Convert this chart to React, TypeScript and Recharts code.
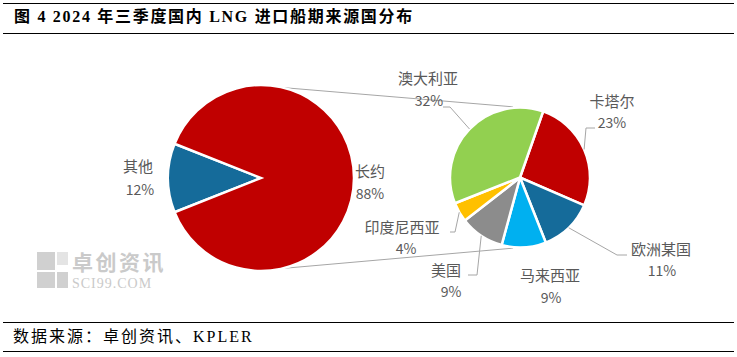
import { PieChart, Pie, Cell, Customized } from 'recharts'

// 左侧主饼图
const mainNames = ['其他', '长约']
const mainValues = [12, 88]

// 右侧子饼图（长约来源国，占总量百分比）
const subNames = ['卡塔尔', '欧洲某国', '马来西亚', '美国', '印度尼西亚', '澳大利亚']
const subValues = [23, 11, 9, 9, 4, 32]

const mainData = mainNames.map((name, i) => ({ name, value: mainValues[i] }))
const subData = subNames.map((name, i) => ({ name, value: subValues[i] }))

const mainColors = ['#156B9A', '#C00000']
const subColors = ['#C00000', '#156B9A', '#00B0F0', '#8C8C8C', '#FFC000', '#92D050']

// geometry
const MAIN = { cx: 261, cy: 178, r: 93, start: 158.4 }
const SUB = { cx: 520, cy: 177.5, r: 70, start: 70.7 }
const RAD = Math.PI / 180

// label placement: [nameX, nameY, pctX, pctY]
const mainLabelPos = [
  [138, 165, 140, 189],
  [370, 170, 370, 193],
]
const subLabelPos = [
  [612, 100, 612, 122],
  [661, 248, 662, 270],
  [550, 274, 551, 297],
  [446, 269, 451, 291],
  [402, 226, 406, 248],
  [428, 77, 429, 100],
]
// leader lines: [labelX, elbowX, y] or null
const subLeaders: (number[] | null)[] = [
  [595, 586, 128],
  [627, 617, 255],
  null,
  [468, 477, 275],
  [450, 455, 232],
  [443, 450, 107],
]

const labelFont = '"Noto Sans CJK SC", "DejaVu Sans", sans-serif'
const labelColor = '#595959'

const makeLabel = (pos: number[][], values: number[], leaders?: (number[] | null)[]) =>
  (props: any) => {
    const { cx, cy, midAngle, outerRadius, index, name } = props
    const p = pos[index]
    const ld = leaders ? leaders[index] : null
    let line = null
    if (ld) {
      const ex = cx + outerRadius * Math.cos(-midAngle * RAD)
      const ey = cy + outerRadius * Math.sin(-midAngle * RAD)
      line = (
        <polyline
          points={`${ld[0]},${ld[2]} ${ld[1]},${ld[2]} ${ex},${ey}`}
          fill="none"
          stroke="#A6A6A6"
          strokeWidth={1}
        />
      )
    }
    return (
      <g key={`lbl-${index}`}>
        {line}
        <text x={p[0]} y={p[1]} textAnchor="middle" dominantBaseline="central"
          fontSize={15} fontFamily={labelFont} fill={labelColor}>{name}</text>
        <text x={p[2]} y={p[3]} textAnchor="middle" dominantBaseline="central"
          fontSize={14} fontFamily={labelFont} fill={labelColor}>{values[index]}%</text>
      </g>
    )
  }

// connector lines between the two pies
const Connectors = () => {
  const a1 = 13.5 * RAD
  const a2 = -5.6 * RAD
  const lTopX = MAIN.cx + MAIN.r * Math.sin(a1)
  const lTopY = MAIN.cy - MAIN.r * Math.cos(a1)
  const lBotY = MAIN.cy + MAIN.r * Math.cos(a1)
  const rX = SUB.cx + (SUB.r + 1) * Math.sin(a2)
  const rTopY = SUB.cy - (SUB.r + 1) * Math.cos(a2)
  const rBotY = SUB.cy + (SUB.r + 1) * Math.cos(a2)
  return (
    <g>
      <line x1={lTopX} y1={lTopY} x2={rX} y2={rTopY} stroke="#A6A6A6" strokeWidth={1} />
      <line x1={lTopX} y1={lBotY} x2={rX} y2={rBotY} stroke="#A6A6A6" strokeWidth={1} />
    </g>
  )
}

const hr = (top: number) => (
  <div style={{ position: 'absolute', left: 3, width: 731, top, height: 0, borderTop: '1.5px solid #000' }} />
)

export default function App() {
  return (
    <div style={{ position: 'absolute', left: 0, top: 0, width: 737, height: 357, background: '#fff', overflow: 'hidden' }}>
      {hr(3)}
      <div style={{
        position: 'absolute', left: 14, top: 7, fontSize: 16, lineHeight: '20px', fontWeight: 'bold',
        fontFamily: '"Liberation Serif", "Noto Sans CJK SC", serif', color: '#000', letterSpacing: 1.7,
        whiteSpace: 'nowrap',
      }}>
        图 4 2024 年三季度国内 LNG 进口船期来源国分布
      </div>
      {hr(33)}

      {/* watermark */}
      <div style={{ position: 'absolute', left: 37, top: 252, width: 18, height: 18, background: '#D0D0D0' }} />
      <div style={{ position: 'absolute', left: 57, top: 252, width: 11, height: 13, background: '#E4E4E4' }} />
      <div style={{ position: 'absolute', left: 37, top: 272, width: 18, height: 16, background: '#D0D0D0' }} />
      <div style={{ position: 'absolute', left: 57, top: 272, width: 11, height: 16, background: '#D0D0D0' }} />
      <div style={{
        position: 'absolute', left: 72, top: 251, fontSize: 21, lineHeight: '21px', color: '#CACACA',
        fontFamily: '"Noto Sans CJK SC", sans-serif', fontWeight: 'bold', letterSpacing: 2.5, whiteSpace: 'nowrap',
      }}>卓创资讯</div>
      <div style={{
        position: 'absolute', left: 72, top: 278, fontSize: 14, lineHeight: '12px', color: '#CACACA',
        fontFamily: '"Liberation Serif", serif', letterSpacing: 1, whiteSpace: 'nowrap',
      }}>SCI99.COM</div>

      <div style={{ position: 'absolute', left: 0, top: 0 }}>
        <PieChart width={737} height={357} margin={{ top: 0, right: 0, bottom: 0, left: 0 }}>
          <Customized component={Connectors} />
          <Pie
            data={mainData}
            dataKey="value"
            nameKey="name"
            cx={MAIN.cx}
            cy={MAIN.cy}
            outerRadius={MAIN.r}
            startAngle={MAIN.start}
            endAngle={MAIN.start + 360}
            stroke="#fff"
            strokeWidth={2.5}
            isAnimationActive={false}
            labelLine={false}
            label={makeLabel(mainLabelPos, mainValues)}
          >
            {mainData.map((d, i) => <Cell key={d.name} fill={mainColors[i]} />)}
          </Pie>
          <Pie
            data={subData}
            dataKey="value"
            nameKey="name"
            cx={SUB.cx}
            cy={SUB.cy}
            outerRadius={SUB.r}
            startAngle={SUB.start}
            endAngle={SUB.start - 360}
            stroke="#fff"
            strokeWidth={2.5}
            isAnimationActive={false}
            labelLine={false}
            label={makeLabel(subLabelPos, subValues, subLeaders)}
          >
            {subData.map((d, i) => <Cell key={d.name} fill={subColors[i]} />)}
          </Pie>
        </PieChart>
      </div>

      {hr(322)}
      <div style={{
        position: 'absolute', left: 13, top: 327, fontSize: 16, lineHeight: '20px', color: '#000',
        fontFamily: '"Liberation Serif", "Noto Sans CJK SC", serif', letterSpacing: 2, whiteSpace: 'nowrap',
      }}>
        数据来源：卓创资讯、KPLER
      </div>
      {hr(351)}
    </div>
  )
}
